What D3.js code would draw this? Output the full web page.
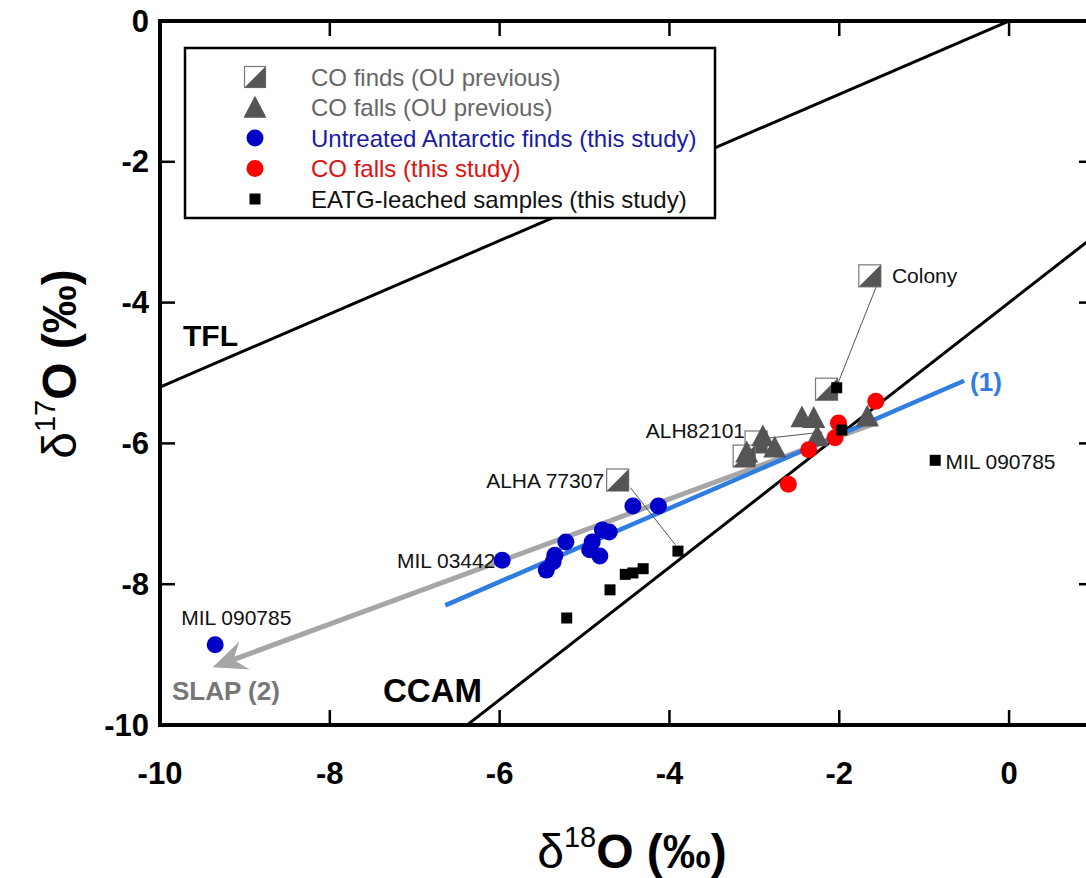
<!DOCTYPE html>
<html>
<head>
<meta charset="utf-8">
<script src="https://cdn.jsdelivr.net/npm/d3@7"></script>
<style>
  body { margin: 0; background: #fff; }
  svg { display: block; font-family: 'Liberation Sans', Arial, sans-serif; }
</style>
</head>
<body>
<div id="chart"></div>
<script>
// ---- data ----
const xTicks = [-10, -8, -6, -4, -2, 0];
const yTicks = [0, -2, -4, -6, -8, -10];

// CO finds (OU previous) - half filled squares
const coFindsPrev = [[-1.64, -3.62], [-2.15, -5.23], [-2.98, -5.98], [-3.12, -6.18], [-4.61, -6.52]];
// CO falls (OU previous) - triangles
const coFallsPrev = [[-2.44, -5.64], [-2.30, -5.65], [-2.26, -5.91], [-1.67, -5.63],
                     [-2.90, -5.91], [-2.76, -6.07], [-3.09, -6.14]];
// Untreated Antarctic finds (this study)
const antarcticFinds = [[-4.43, -6.89], [-4.13, -6.89], [-5.97, -7.66], [-5.22, -7.40], [-5.35, -7.59],
                        [-5.37, -7.68], [-5.45, -7.80], [-4.79, -7.23], [-4.71, -7.26], [-4.91, -7.40],
                        [-4.94, -7.51], [-4.82, -7.60], [-9.35, -8.86]];
// CO falls (this study)
const coFallsNew = [[-1.57, -5.40], [-2.01, -5.71], [-2.05, -5.92], [-2.36, -6.09], [-2.60, -6.58]];
// EATG-leached samples (this study)
const eatgLeached = [[-2.03, -5.21], [-1.97, -5.81], [-0.87, -6.24], [-3.90, -7.53], [-4.31, -7.78],
                     [-4.43, -7.84], [-4.52, -7.86], [-4.70, -8.08], [-5.21, -8.48]];

// reference lines: d17O = slope * d18O + intercept
const refLines = [
  { name: 'TFL', slope: 0.52, intercept: 0 },
  { name: 'CCAM', slope: 0.94, intercept: -4.0 }
];
const fitLine1 = [[-6.64, -8.30], [-0.53, -5.11]];
const slapArrow = [[-1.55, -5.70], [-9.38, -9.18]];
const leaderLines = [
  [[-1.56, -3.76], [-2.03, -5.19]],
  [[-4.46, -6.63], [-3.93, -7.44]],
  [[-2.87, -5.93], [-2.20, -5.84]]
];
const pointLabels = [
  { text: 'Colony', x: -1.38, y: -3.62, anchor: 'start' },
  { text: 'ALH82101', x: -3.11, y: -5.82, anchor: 'end' },
  { text: 'ALHA 77307', x: -4.77, y: -6.52, anchor: 'end' },
  { text: 'MIL 03442', x: -6.05, y: -7.66, anchor: 'end' },
  { text: 'MIL 090785', x: -9.75, y: -8.47, anchor: 'start' },
  { text: 'MIL 090785', x: -0.75, y: -6.26, anchor: 'start' }
];
const legendItems = [
  { label: 'CO finds (OU previous)', type: 'split', color: '#666' },
  { label: 'CO falls (OU previous)', type: 'tri', color: '#666' },
  { label: 'Untreated Antarctic finds (this study)', type: 'blue', color: '#1a1aa6' },
  { label: 'CO falls (this study)', type: 'red', color: '#e01010' },
  { label: 'EATG-leached samples (this study)', type: 'sq', color: '#111' }
];

// ---- setup ----
const W = 1086, H = 878;
const svg = d3.select('#chart').append('svg').attr('width', W).attr('height', H);

const x = d3.scaleLinear().domain([-10, 1]).range([160, 1094]);
const y = d3.scaleLinear().domain([-10, 0]).range([725, 21]);

const plot = svg.append('g');
svg.append('clipPath').attr('id', 'clip')
  .append('rect').attr('x', x(-10)).attr('y', y(0)).attr('width', x(1) - x(-10)).attr('height', y(-10) - y(0));

// reference lines
const lines = plot.append('g').attr('clip-path', 'url(#clip)');
refLines.forEach(l => {
  lines.append('line')
    .attr('x1', x(-10)).attr('y1', y(l.slope * -10 + l.intercept))
    .attr('x2', x(1)).attr('y2', y(l.slope * 1 + l.intercept))
    .attr('stroke', '#000').attr('stroke-width', 3);
});

// SLAP arrow
const a0 = [x(slapArrow[0][0]), y(slapArrow[0][1])];
const a1 = [x(slapArrow[1][0]), y(slapArrow[1][1])];
const ang = Math.atan2(a1[1] - a0[1], a1[0] - a0[0]);
const headLen = 34, notch = 22, half = 15;
function rot(px, py) {
  return [a1[0] + px * Math.cos(ang) - py * Math.sin(ang), a1[1] + px * Math.sin(ang) + py * Math.cos(ang)];
}
const notchPt = rot(-notch, 0);
plot.append('line')
  .attr('x1', a0[0]).attr('y1', a0[1]).attr('x2', notchPt[0]).attr('y2', notchPt[1])
  .attr('stroke', '#a6a6a6').attr('stroke-width', 5);
plot.append('path')
  .attr('d', 'M' + [[0, 0], [-headLen, -half], [-notch, 0], [-headLen, half]].map(p => rot(p[0], p[1]).join(',')).join('L') + 'Z')
  .attr('fill', '#a6a6a6');

// fit line (1)
plot.append('path')
  .attr('d', d3.line().x(d => x(d[0])).y(d => y(d[1]))(fitLine1))
  .attr('stroke', '#2f7de1').attr('stroke-width', 4.5).attr('fill', 'none');

// leader lines
leaderLines.forEach(l => {
  plot.append('line')
    .attr('x1', x(l[0][0])).attr('y1', y(l[0][1]))
    .attr('x2', x(l[1][0])).attr('y2', y(l[1][1]))
    .attr('stroke', '#555').attr('stroke-width', 1);
});

// marker helpers
function splitSquare(g, cx, cy, s) {
  g.append('rect').attr('x', cx - s / 2).attr('y', cy - s / 2).attr('width', s).attr('height', s)
    .attr('fill', '#fff').attr('stroke', '#777').attr('stroke-width', 1.2);
  g.append('path')
    .attr('d', `M${cx + s / 2},${cy - s / 2}L${cx + s / 2},${cy + s / 2}L${cx - s / 2},${cy + s / 2}Z`)
    .attr('fill', '#555');
}
function triangle(g, cx, cy, s) {
  g.append('path')
    .attr('d', `M${cx},${cy - s * 0.55}L${cx + s / 2},${cy + s * 0.4}L${cx - s / 2},${cy + s * 0.4}Z`)
    .attr('fill', '#555');
}

const marks = plot.append('g');
coFindsPrev.forEach(d => splitSquare(marks, x(d[0]), y(d[1]), 22));
coFallsPrev.forEach(d => triangle(marks, x(d[0]), y(d[1]), 23));
marks.selectAll('.red').data(coFallsNew).join('circle')
  .attr('cx', d => x(d[0])).attr('cy', d => y(d[1])).attr('r', 8.5).attr('fill', '#ff0000');
marks.selectAll('.blue').data(antarcticFinds).join('circle')
  .attr('cx', d => x(d[0])).attr('cy', d => y(d[1])).attr('r', 8.5).attr('fill', '#0000c8');
marks.selectAll('.sq').data(eatgLeached).join('rect')
  .attr('x', d => x(d[0]) - 5.5).attr('y', d => y(d[1]) - 5.5).attr('width', 11).attr('height', 11)
  .attr('fill', '#000');

// point labels
plot.selectAll('.plabel').data(pointLabels).join('text')
  .attr('x', d => x(d.x)).attr('y', d => y(d.y))
  .attr('text-anchor', d => d.anchor).attr('dominant-baseline', 'central')
  .attr('font-size', 21).attr('fill', '#111').text(d => d.text);

// line labels
plot.append('text').attr('x', 183).attr('y', 346).attr('font-size', 30).attr('font-weight', 'bold').text('TFL');
plot.append('text').attr('x', 383).attr('y', 702).attr('font-size', 33).attr('font-weight', 'bold').text('CCAM');
plot.append('text').attr('x', 172).attr('y', 700).attr('font-size', 26).attr('font-weight', 'bold')
  .attr('fill', '#777').text('SLAP (2)');
plot.append('text').attr('x', x(fitLine1[1][0]) + 6).attr('y', y(fitLine1[1][1]) + 1)
  .attr('dominant-baseline', 'central').attr('font-size', 26).attr('font-weight', 'bold')
  .attr('fill', '#2f7de1').text('(1)');

// legend
const lg = svg.append('g');
lg.append('rect').attr('x', 185).attr('y', 48).attr('width', 530).attr('height', 170)
  .attr('fill', '#fff').attr('stroke', '#000').attr('stroke-width', 2.5);
legendItems.forEach((d, i) => {
  const cy = 77 + i * 30.5, cx = 255;
  if (d.type === 'split') splitSquare(lg, cx, cy, 21);
  else if (d.type === 'tri') triangle(lg, cx, cy + 1, 23);
  else if (d.type === 'blue') lg.append('circle').attr('cx', cx).attr('cy', cy).attr('r', 8.5).attr('fill', '#0000c8');
  else if (d.type === 'red') lg.append('circle').attr('cx', cx).attr('cy', cy).attr('r', 8.5).attr('fill', '#ff0000');
  else lg.append('rect').attr('x', cx - 5.5).attr('y', cy - 5.5).attr('width', 11).attr('height', 11).attr('fill', '#000');
  lg.append('text').attr('x', 311).attr('y', cy).attr('dominant-baseline', 'central')
    .attr('font-size', 24).attr('fill', d.color).text(d.label);
});

// frame + ticks
const frame = svg.append('g');
frame.append('rect').attr('x', x(-10)).attr('y', y(0)).attr('width', x(1) - x(-10)).attr('height', y(-10) - y(0))
  .attr('fill', 'none').attr('stroke', '#000').attr('stroke-width', 4);
const tl = 15;
xTicks.forEach(t => {
  frame.append('line').attr('x1', x(t)).attr('x2', x(t)).attr('y1', y(-10)).attr('y2', y(-10) - tl)
    .attr('stroke', '#000').attr('stroke-width', 2.5);
  frame.append('line').attr('x1', x(t)).attr('x2', x(t)).attr('y1', y(0)).attr('y2', y(0) + tl)
    .attr('stroke', '#000').attr('stroke-width', 2.5);
});
yTicks.forEach(t => {
  frame.append('line').attr('x1', x(-10)).attr('x2', x(-10) + tl).attr('y1', y(t)).attr('y2', y(t))
    .attr('stroke', '#000').attr('stroke-width', 2.5);
  frame.append('line').attr('x1', x(1)).attr('x2', x(1) - tl).attr('y1', y(t)).attr('y2', y(t))
    .attr('stroke', '#000').attr('stroke-width', 2.5);
});
frame.selectAll('.xl').data(xTicks).join('text')
  .attr('x', d => x(d)).attr('y', 784).attr('text-anchor', 'middle')
  .attr('font-size', 31).attr('font-weight', 'bold').text(d => d);
frame.selectAll('.yl').data(yTicks).join('text')
  .attr('x', 149).attr('y', d => y(d)).attr('text-anchor', 'end').attr('dominant-baseline', 'central')
  .attr('font-size', 31).attr('font-weight', 'bold').text(d => d);

// axis titles
const xt = svg.append('text').attr('x', 632).attr('y', 868).attr('text-anchor', 'middle')
  .attr('font-size', 48).attr('font-weight', 'bold');
xt.append('tspan').attr('font-weight', 'normal').text('δ');
xt.append('tspan').attr('font-size', 29).attr('font-weight', 'normal').attr('dy', -21).text('18');
xt.append('tspan').attr('dy', 21).text('O (‰)');

const yt = svg.append('text').attr('transform', 'translate(76,364) rotate(-90)').attr('text-anchor', 'middle')
  .attr('font-size', 48).attr('font-weight', 'bold');
yt.append('tspan').attr('font-weight', 'normal').text('δ');
yt.append('tspan').attr('font-size', 29).attr('font-weight', 'normal').attr('dy', -21).text('17');
yt.append('tspan').attr('dy', 21).text('O (‰)');
</script>
</body>
</html>
